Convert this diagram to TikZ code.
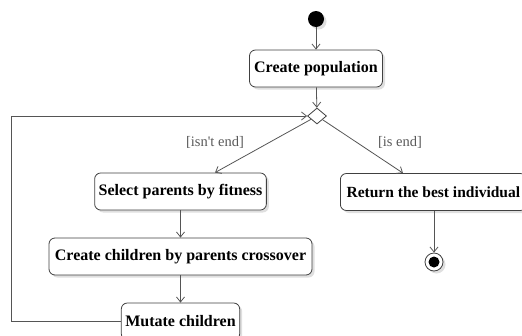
\documentclass[tikz,border=0pt]{standalone}
\usepackage{fontspec}
\setmainfont{Liberation Serif}
\usepackage{xcolor}
\usepackage{tikz}
\usetikzlibrary{arrows.meta, shapes.geometric, shadows}
\definecolor{linegray}{HTML}{555555}
\tikzset{every picture/.style={x=1pt,y=-1pt},
  softshadow/.style={drop shadow={shadow xshift=2.5pt, shadow yshift=-2.5pt, fill=black!25}},
  act/.style={rectangle, rounded corners=6pt, draw=black!75, fill=white, line width=0.8pt,
    minimum height=37pt, inner sep=4pt, font=\fontsize{16}{18}\selectfont\bfseries, softshadow},
  flow/.style={draw=linegray, line width=0.8pt, -{Straight Barb[length=5pt,width=8pt]}},
  guard/.style={text=black!65, font=\fontsize{14.5}{16}\selectfont}}

\begin{document}
\begin{tikzpicture}
        \useasboundingbox (0,0) rectangle (522,335);
        \node[circle, fill=black, minimum size=16pt, inner sep=0, softshadow] (init) at (316,19) {};
        \node[act, minimum width=133pt] (pop) at (316,68.5) {Create population};
        \node[diamond, draw=black!75, fill=white, line width=0.8pt, minimum width=19pt, minimum height=16pt, inner sep=0] (dec) at (317,116) {};
        \node[act, minimum width=169pt] (sel) at (180.5,191.5) {Select parents by fitness};
        \node[act, minimum width=263pt] (cross) at (180.5,256.5) {Create children by parents crossover};
        \node[act, minimum width=118pt] (mut) at (180.5,321.5) {Mutate children};
        \node[act, anchor=west, inner xsep=4pt, minimum width=186pt, font=\fontsize{15.5}{18}\selectfont\bfseries] (ret) at (340,192) {Return the best individual};
        \node[circle, draw=black!75, fill=white, line width=0.8pt, minimum size=18pt, inner sep=0, softshadow] (fin) at (434,262) {};
        \node[circle, fill=black, minimum size=11pt, inner sep=0] (findot) at (fin) {};
        \coordinate (loop) at (11,116);

        \node[guard] (notend) at (215,142) {[isn\textquotesingle t end]};
        \node[guard] (isend) at (400,142) {[is end]};

        \foreach \from/\to in {
          init/pop, pop/dec,
          sel/cross, cross/mut}
        \draw[flow] (\from) -- (\to);

        \draw[flow] (dec) -- ([xshift=34.5pt]sel.north);
        \draw[flow] (dec) -- ([xshift=63pt]ret.north west);
        \draw[flow] (ret.south -| fin) -- (fin.north);
        \draw[flow] (mut.west) -| (loop) -- (dec.west);
      \end{tikzpicture}
\end{document}
